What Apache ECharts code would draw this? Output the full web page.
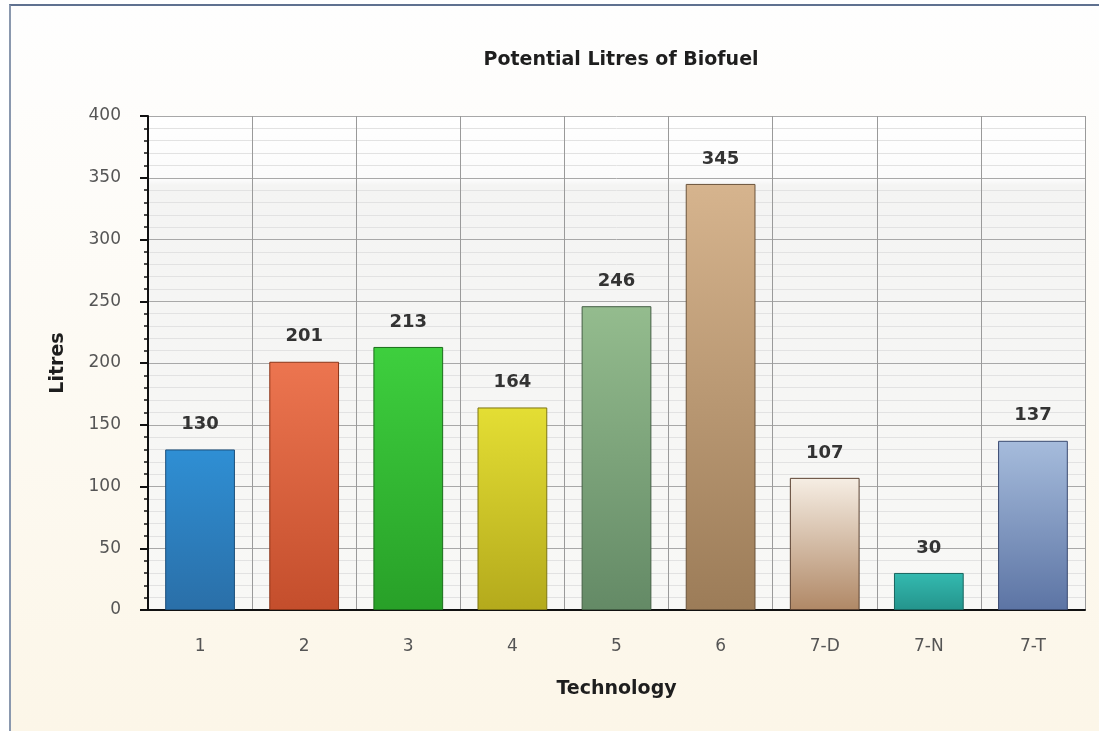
<!DOCTYPE html>
<html>
<head>
<meta charset="utf-8">
<script src="https://cdn.jsdelivr.net/npm/echarts@6/dist/echarts.min.js"></script>
<style>
  html, body { margin: 0; padding: 0; background: #fff; }
  #frame {
    position: absolute; left: 9px; top: 4px; width: 1090px; height: 727px;
    border-left: 2px solid #8a98ae; border-top: 2px solid #5f7190;
    box-sizing: border-box;
  }
  #chart { width: 100%; height: 100%; }
</style>
</head>
<body>
<div id="frame"><div id="chart"></div></div>
<script>
const categories = ["1", "2", "3", "4", "5", "6", "7-D", "7-N", "7-T"];
const litres = [130, 201, 213, 164, 246, 345, 107, 30, 137];
// top / bottom colour of each bar's shading
const barTop = ["#2f8fd4", "#ec7550", "#3ecf3e", "#e4de34", "#94bc8e", "#d6b48e", "#f6eee4", "#34bab0", "#a6bcdc"];
const barBottom = ["#2a6fa8", "#c44e2c", "#28a028", "#b4aa1c", "#648a66", "#9c7c58", "#b08866", "#24948c", "#5c74a4"];
const barEdge = ["#1d4f7a", "#8a3418", "#1a6e1a", "#7e7610", "#435e44", "#6a533a", "#5a4030", "#18645e", "#3a4a70"];

const chart = echarts.init(document.getElementById("chart"));

const option = {
  animation: false,
  backgroundColor: new echarts.graphic.LinearGradient(0, 0, 0, 1, [
    { offset: 0, color: "#fefefe" },
    { offset: 1, color: "#fcf6e8" },
  ]),
  title: {
    text: "Potential Litres of Biofuel",
    left: 605, top: 40, textAlign: "center",
    textStyle: { fontFamily: "DejaVu Sans", fontSize: 19, fontWeight: "bold", color: "#1e1e1e" },
  },
  grid: {
    left: 137, right: 14, top: 110, bottom: 121,
    show: true,
    backgroundColor: new echarts.graphic.LinearGradient(0, 0, 0, 1, [
      { offset: 0, color: "#ffffff" },
      { offset: 0.13, color: "#fbfbfb" },
      { offset: 0.14, color: "#f4f4f3" },
      { offset: 1, color: "#f8f8f6" },
    ]),
    borderWidth: 0,
  },
  xAxis: {
    type: "category",
    data: categories,
    name: "Technology",
    nameLocation: "middle",
    nameGap: 70,
    nameTextStyle: { fontFamily: "DejaVu Sans", fontSize: 19, fontWeight: "bold", color: "#1e1e1e" },
    axisLine: { lineStyle: { color: "#111", width: 2 } },
    axisTick: { length: 10, lineStyle: { color: "#111", width: 2 } },
    axisLabel: { margin: 28, fontFamily: "DejaVu Sans", fontSize: 17, color: "#555" },
    splitLine: { show: true, lineStyle: { color: "#9a9a9a", width: 1 } },
  },
  yAxis: {
    type: "value",
    min: 0, max: 400, interval: 50,
    name: "Litres",
    nameLocation: "middle",
    nameGap: 80,
    nameTextStyle: { fontFamily: "DejaVu Sans", fontSize: 19, fontWeight: "bold", color: "#1e1e1e" },
    axisLine: { show: true, lineStyle: { color: "#111", width: 2 } },
    axisTick: { show: true, length: 8, lineStyle: { color: "#111", width: 2 } },
    minorTick: { show: true, splitNumber: 5, length: 4, lineStyle: { color: "#111", width: 1.5 } },
    axisLabel: { margin: 27, fontFamily: "DejaVu Sans", fontSize: 17, color: "#555" },
    splitLine: { show: true, lineStyle: { color: "#a8a8a8", width: 1 } },
    minorSplitLine: { show: true, lineStyle: { color: "#e2e2e2", width: 1 } },
  },
  series: [
    {
      type: "bar",
      barWidth: "67%",
      data: litres.map((v, i) => ({
        value: v,
        itemStyle: {
          color: new echarts.graphic.LinearGradient(0, 0, 0, 1, [
            { offset: 0, color: barTop[i] },
            { offset: 1, color: barBottom[i] },
          ]),
          borderColor: barEdge[i],
          borderWidth: 1,
        },
      })),
      label: {
        show: true, position: "top", distance: 16,
        fontFamily: "DejaVu Sans", fontSize: 18, fontWeight: "bold", color: "#333",
      },
    },
  ],
};

chart.setOption(option);
window.addEventListener("resize", () => chart.resize());
</script>
</body>
</html>
